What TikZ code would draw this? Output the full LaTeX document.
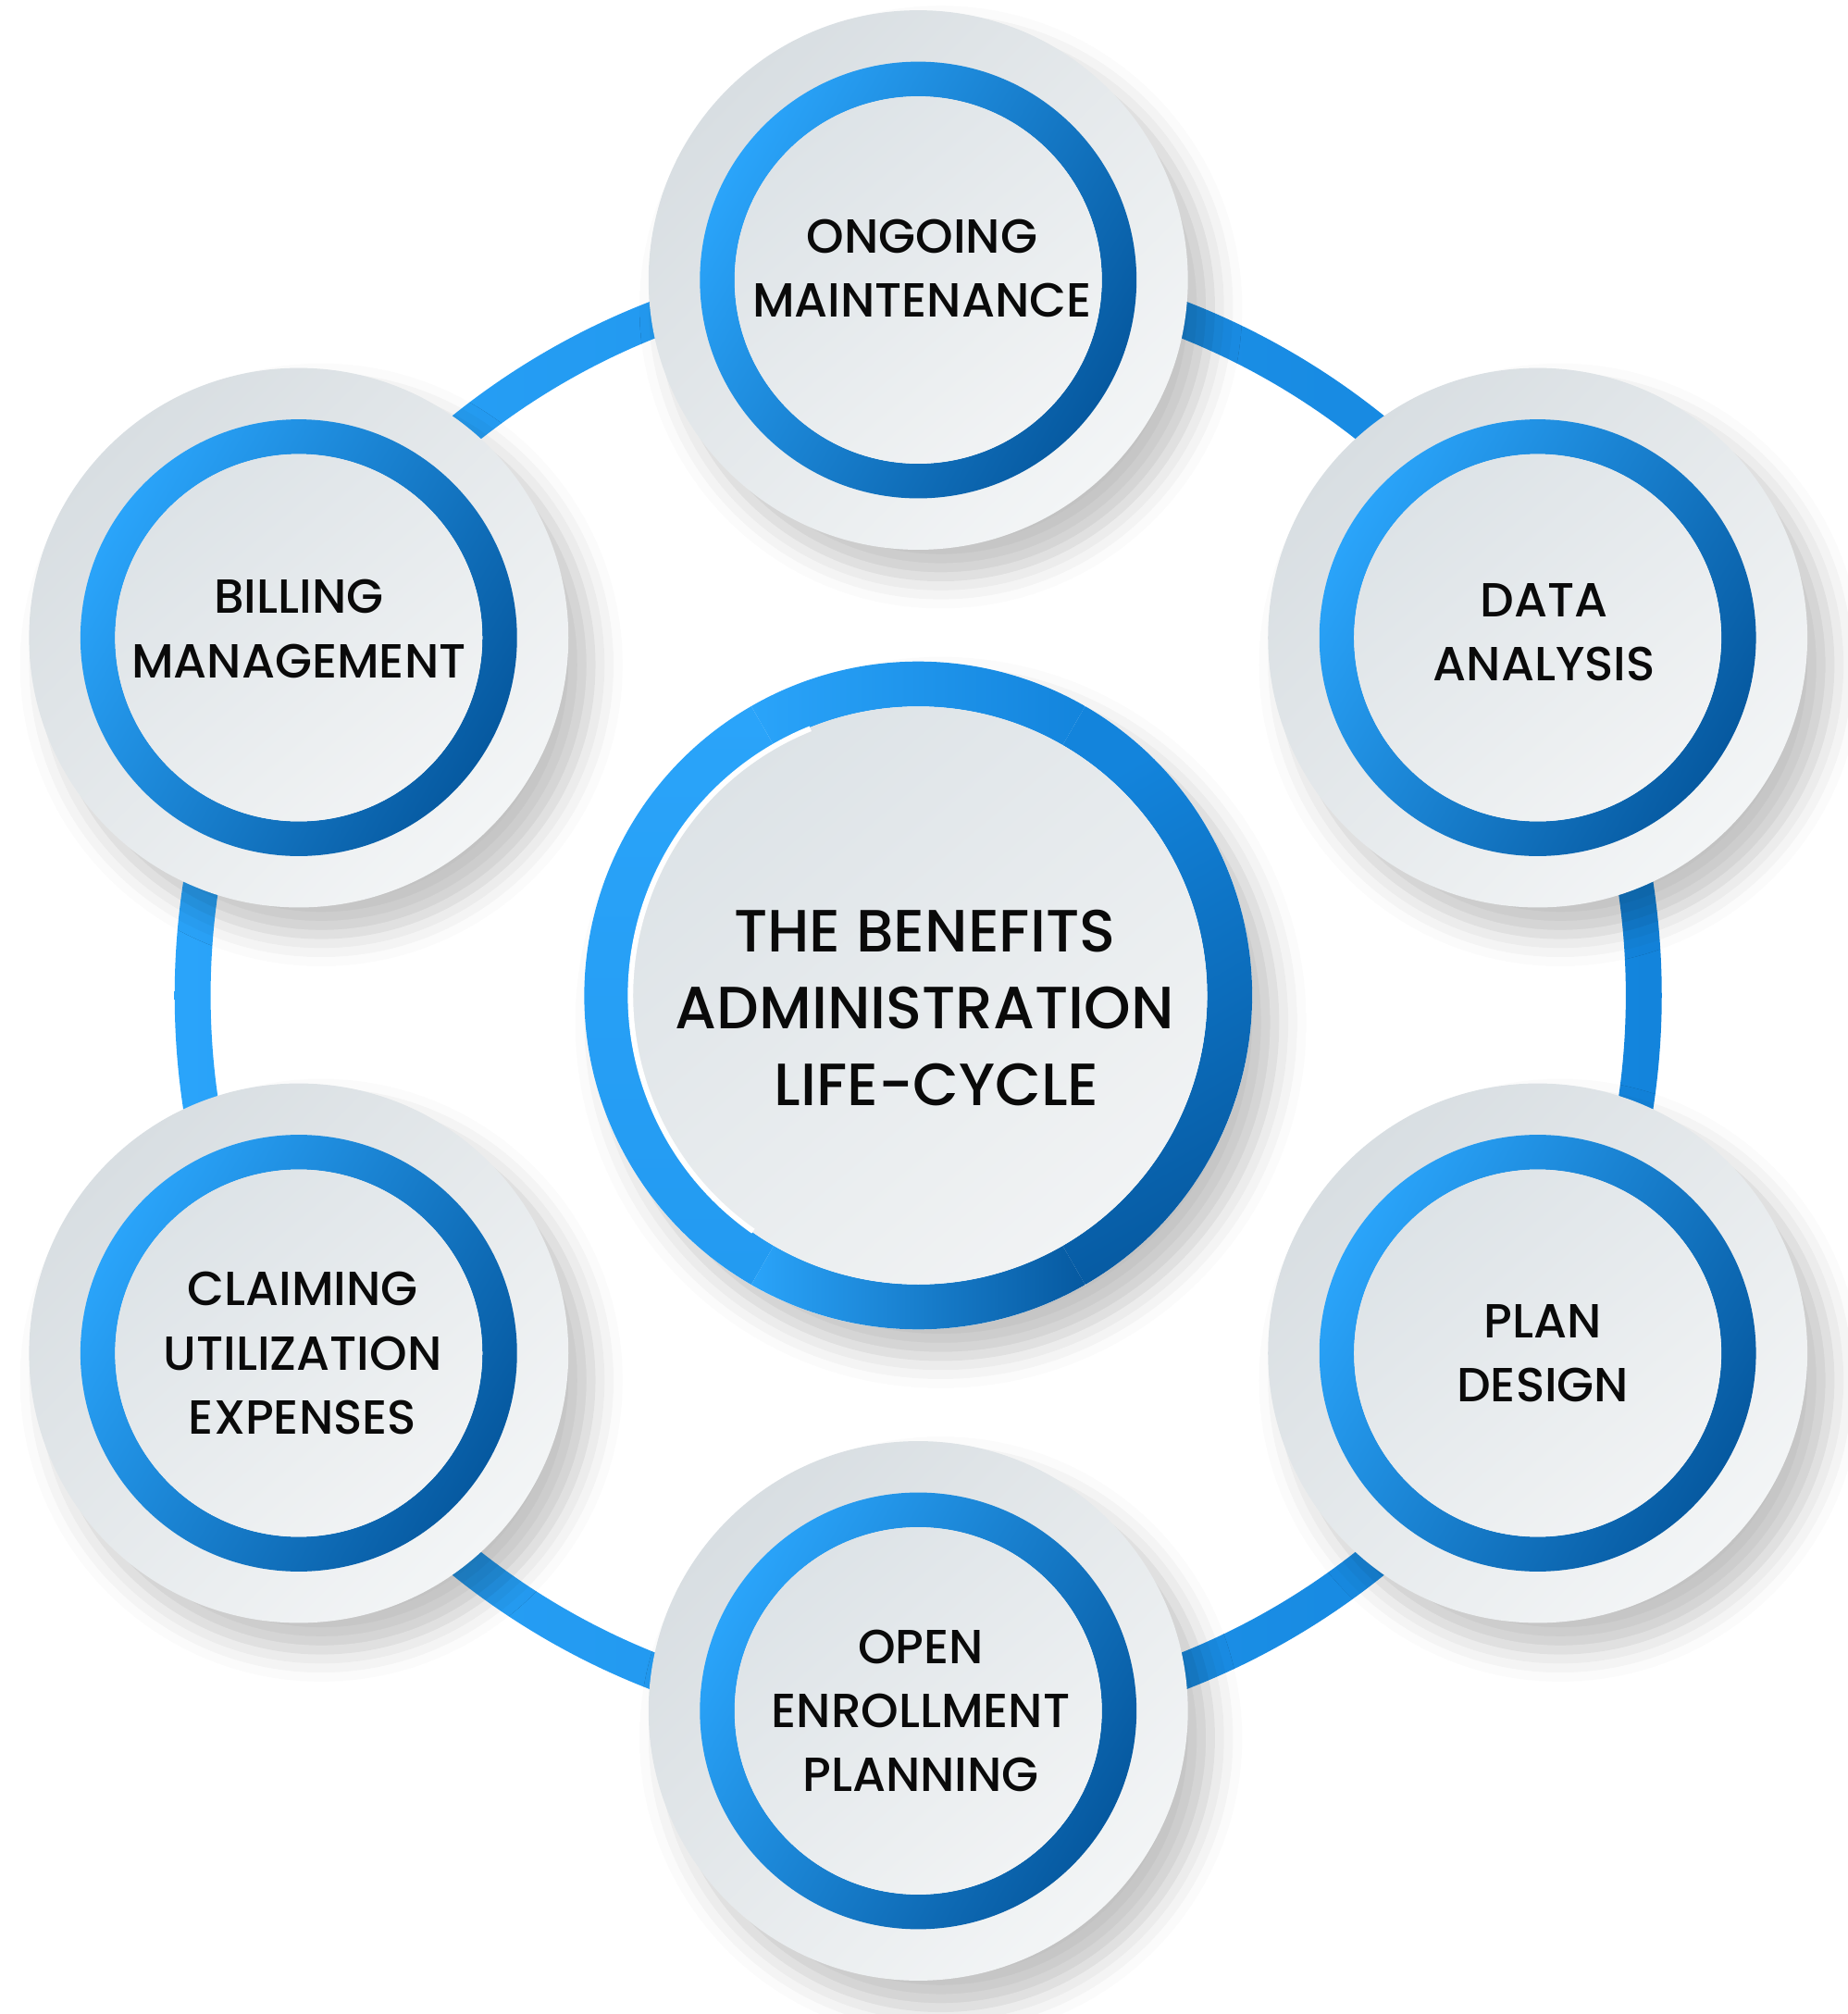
\documentclass[tikz,border=0pt]{standalone}
\usepackage{fontspec}
\setmainfont{Poppins}[UprightFont={* Medium}]
\usetikzlibrary{shadows.blur,calc}
\definecolor{bL}{HTML}{2AA4FA}
\definecolor{bM}{HTML}{1384DC}
\definecolor{bD}{HTML}{0659A0}
\definecolor{gA}{HTML}{D8DEE2}
\definecolor{gB}{HTML}{F3F5F6}
\definecolor{iA}{HTML}{DDE3E7}
\definecolor{iB}{HTML}{F1F3F4}
\definecolor{txt}{HTML}{0A0A0A}
\tikzset{
  softshadow/.style={blur shadow={shadow xshift=5pt, shadow yshift=-6pt, shadow blur radius=7pt, shadow opacity=24}},
  outerdisc/.style={top color=gA, bottom color=gB, shading angle=45},
  bluering/.style={top color=bL, middle color=bM, bottom color=bD, shading angle=60, even odd rule},
  innerdisc/.style={top color=iA, bottom color=iB, shading angle=40},
  sattext/.style={align=center, text=txt, font=\fontsize{10.6}{14.2}\selectfont},
  centertext/.style={align=center, text=txt, font=\fontsize{13.2}{17}\selectfont},
}
\begin{document}
\begin{tikzpicture}[x=0.01cm,y=0.01cm]
\useasboundingbox (0,0) rectangle (1439,1568);
\coordinate (C) at (715,793);
% connecting ring
\shade[left color=bL, right color=bM, even odd rule] (C) circle[radius=579] (C) circle[radius=551];
% satellites
\foreach \a/\n/\dx/\dy/\t in {
  90/s1/3/9/{ONGOING\\MAINTENANCE},
  30/s2/5/4/{DATA\\ANALYSIS},
  -30/s3/4/0/{PLAN\\DESIGN},
  -90/s4/2/0/{OPEN\\ENROLLMENT\\PLANNING},
  210/s5/3/0/{CLAIMING\\UTILIZATION\\EXPENSES},
  150/s6/0/7/{BILLING\\MANAGEMENT}}{
  \coordinate (\n) at ($(C)+(\a:557)$);
  \shade[outerdisc, softshadow] (\n) circle[radius=210];
  \shade[bluering] (\n) circle[radius=170] (\n) circle[radius=143];
  \shade[innerdisc] (\n) circle[radius=143];
  \node[sattext] (t\n) at ($(\n)+(\dx,\dy)$) {\t};
}
% centre
\fill[white, softshadow] (C) circle[radius=260];
\shade[top color=bL, bottom color=bM, shading angle=90]
  ($(C)+(60:260)$) arc[start angle=60, end angle=120, radius=260]
  -- ($(C)+(120:225)$) arc[start angle=120, end angle=60, radius=225] -- cycle;
\shade[top color=bL, bottom color=bL!70!bM, shading angle=0]
  ($(C)+(120:260)$) arc[start angle=120, end angle=240, radius=260]
  -- ($(C)+(240:225)$) arc[start angle=240, end angle=120, radius=225] -- cycle;
\shade[top color=bM, bottom color=bD, shading angle=30]
  ($(C)+(-60:260)$) arc[start angle=-60, end angle=60, radius=260]
  -- ($(C)+(60:225)$) arc[start angle=60, end angle=-60, radius=225] -- cycle;
\shade[top color=bL, bottom color=bD, shading angle=90]
  ($(C)+(240:260)$) arc[start angle=240, end angle=300, radius=260]
  -- ($(C)+(300:225)$) arc[start angle=300, end angle=240, radius=225] -- cycle;
\shade[innerdisc] (C) circle[radius=225];
\draw[white, line width=1.2pt] ($(C)+(112:224)$) arc[start angle=112, end angle=235, radius=224];
\node[centertext] (tc) at ($(C)+(5,-10)$) {THE BENEFITS\\ADMINISTRATION\\\hspace*{0.4em}LIFE-CYCLE};
\end{tikzpicture}
\end{document}
